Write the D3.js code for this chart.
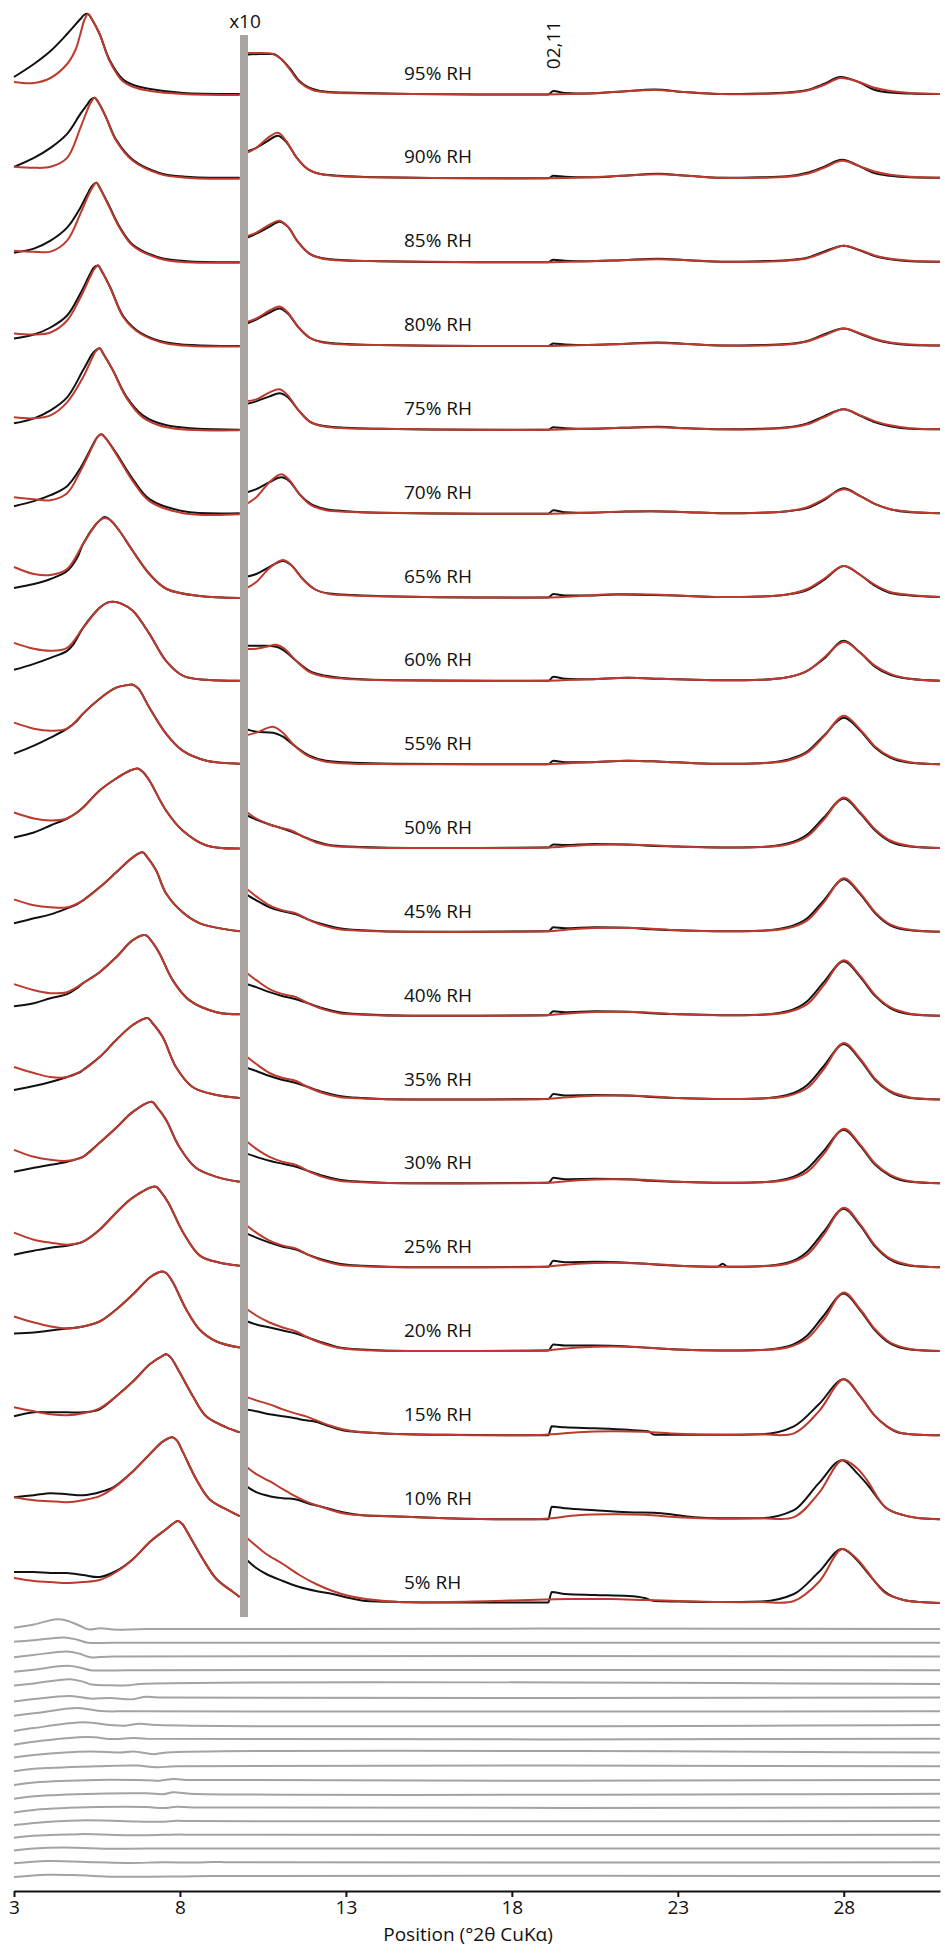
<!DOCTYPE html>
<html>
<head>
<meta charset="utf-8">
<script src="https://cdn.jsdelivr.net/npm/d3@7"></script>
<style>
  body { margin: 0; background: #fff; }
  text { font-family: "Open Sans", "Noto Sans", sans-serif; fill: #111; }
</style>
</head>
<body>
<svg id="chart" width="945" height="1955"></svg>
<script>
// Relative humidity steps, top to bottom
const rhLevels = [95, 90, 85, 80, 75, 70, 65, 60, 55, 50, 45, 40, 35, 30, 25, 20, 15, 10, 5];
const xTicks = [3, 8, 13, 18, 23, 28];

// Low angle part (3 - 9.8 deg), counts, [2theta, intensity]
const calcLow = [
  [[3,130],[3.6,120],[4.1,170],[4.6,310],[4.85,450],[5.0,610],[5.11,740],[5.23,810],[5.36,750],[5.58,610],[5.88,340],[6.27,140],[6.6,80],[7.1,40],[8.1,10],[9.8,0]],
  [[3,120],[3.6,110],[4.1,120],[4.6,210],[5.0,510],[5.2,680],[5.31,760],[5.43,810],[5.55,760],[5.78,610],[6.08,380],[6.58,180],[7.38,50],[8.2,10],[9.8,0]],
  [[3,120],[3.6,110],[4.1,110],[4.6,220],[5.0,490],[5.25,680],[5.36,750],[5.48,800],[5.6,740],[5.88,550],[6.18,350],[6.58,170],[7.4,40],[8.2,5],[9.8,0]],
  [[3,130],[3.6,120],[4.1,140],[4.6,260],[5.0,490],[5.3,700],[5.41,770],[5.53,810],[5.65,750],[5.9,590],[6.3,290],[6.8,130],[7.6,30],[9.8,0]],
  [[3,130],[3.6,120],[4.1,150],[4.6,280],[5.08,530],[5.35,720],[5.46,790],[5.58,820],[5.7,760],[5.98,600],[6.38,330],[6.88,130],[7.6,30],[9.8,0]],
  [[3,170],[3.6,150],[4.1,140],[4.6,210],[5.0,430],[5.4,700],[5.51,770],[5.63,800],[5.76,760],[6.08,600],[6.58,330],[7.08,130],[8.1,10],[9.8,0]],
  [[3,310],[3.6,240],[4.1,230],[4.6,290],[5.08,540],[5.45,730],[5.6,780],[5.73,800],[5.9,780],[6.18,670],[6.58,470],[7.08,240],[7.6,90],[8.6,20],[9.8,0]],
  [[3,390],[3.6,330],[4.1,310],[4.6,340],[5.08,540],[5.58,740],[5.8,790],[5.98,800],[6.25,780],[6.58,710],[7.08,480],[7.58,210],[8.1,60],[8.8,20],[9.8,10]],
  [[3,430],[3.6,370],[4.1,350],[4.6,370],[5.08,520],[5.58,670],[6.08,780],[6.4,805],[6.58,810],[6.75,770],[7.08,580],[7.58,320],[8.08,150],[8.8,50],[9.8,20]],
  [[3,370],[3.6,310],[4.1,290],[4.6,310],[5.08,420],[5.58,590],[6.08,710],[6.5,790],[6.73,810],[6.9,770],[7.08,690],[7.58,390],[8.08,190],[8.8,40],[9.8,10]],
  [[3,340],[3.6,280],[4.1,260],[4.6,260],[5.08,330],[5.58,460],[6.08,610],[6.58,760],[6.87,810],[7.02,760],[7.28,630],[7.58,400],[8.08,210],[8.6,100],[9.8,20]],
  [[3,330],[3.6,270],[4.1,240],[4.6,250],[5.08,340],[5.58,450],[6.08,600],[6.58,770],[6.97,820],[7.12,770],[7.38,640],[7.78,370],[8.28,170],[9.1,50],[9.8,30]],
  [[3,340],[3.6,280],[4.1,240],[4.6,240],[5.08,310],[5.58,440],[6.08,610],[6.58,760],[7.02,830],[7.17,780],[7.48,640],[7.88,340],[8.38,140],[9.1,60],[9.8,30]],
  [[3,350],[3.6,280],[4.1,250],[4.6,240],[5.08,280],[5.58,420],[6.08,570],[6.58,730],[7.15,830],[7.3,780],[7.58,650],[7.98,380],[8.48,170],[9.1,80],[9.8,30]],
  [[3,360],[3.6,290],[4.1,260],[4.6,240],[5.08,270],[5.58,390],[6.08,560],[6.58,710],[7.27,820],[7.42,770],[7.65,660],[8.1,360],[8.6,130],[9.2,60],[9.8,30]],
  [[3,360],[3.6,300],[4.1,260],[4.6,240],[5.08,260],[5.58,310],[6.08,430],[6.58,580],[7.09,750],[7.35,800],[7.47,810],[7.6,790],[7.79,700],[8.19,430],[8.59,230],[9.1,110],[9.8,50]],
  [[3,290],[3.6,250],[4.1,220],[4.6,210],[5.08,230],[5.58,280],[6.08,400],[6.59,550],[7.09,720],[7.45,800],[7.59,820],[7.72,790],[7.99,640],[8.39,400],[8.79,200],[9.4,90],[9.8,40]],
  [[3,230],[3.6,200],[4.1,190],[4.6,180],[5.08,200],[5.58,240],[6.08,340],[6.59,490],[7.09,660],[7.5,790],[7.77,830],[7.9,800],[8.09,680],[8.49,410],[8.89,210],[9.5,90],[9.8,40]],
  [[3,260],[3.6,230],[4.1,220],[4.6,210],[5.08,220],[5.58,240],[6.08,320],[6.59,450],[7.09,620],[7.59,750],[7.82,810],[7.94,830],[8.07,800],[8.29,680],[8.69,450],[9.1,250],[9.6,120],[9.8,70]]
];

const obsLow = [
  [[3,180],[3.6,310],[4.1,440],[4.6,610],[5.0,760],[5.11,800],[5.23,810],[5.36,750],[5.58,610],[5.88,350],[6.27,160],[6.6,100],[7.1,60],[8.1,20],[9.8,10]],
  [[3,120],[3.6,210],[4.1,310],[4.6,450],[5.0,650],[5.2,740],[5.31,790],[5.43,810],[5.55,760],[5.78,610],[6.08,390],[6.58,190],[7.38,60],[8.2,20],[9.8,10]],
  [[3,100],[3.6,140],[4.1,220],[4.6,350],[5.0,550],[5.25,710],[5.36,770],[5.48,800],[5.6,740],[5.88,560],[6.18,360],[6.58,180],[7.4,50],[8.2,15],[9.8,5]],
  [[3,80],[3.6,120],[4.1,190],[4.6,310],[5.0,530],[5.3,730],[5.41,790],[5.53,810],[5.65,750],[5.9,590],[6.3,300],[6.8,140],[7.6,40],[9.8,5]],
  [[3,70],[3.6,120],[4.1,200],[4.6,330],[5.08,600],[5.35,760],[5.46,800],[5.58,820],[5.7,760],[5.98,600],[6.38,340],[6.88,150],[7.6,50],[9.8,5]],
  [[3,80],[3.6,130],[4.1,190],[4.6,280],[5.0,460],[5.4,710],[5.51,770],[5.63,800],[5.76,760],[6.08,610],[6.58,350],[7.08,150],[8.1,30],[9.8,10]],
  [[3,100],[3.6,140],[4.1,190],[4.6,270],[4.9,400],[5.08,540],[5.45,730],[5.6,780],[5.73,810],[5.9,780],[6.18,670],[6.58,470],[7.08,240],[7.6,90],[8.6,20],[9.8,0]],
  [[3,120],[3.6,180],[4.1,240],[4.6,310],[4.8,380],[5.08,540],[5.58,740],[5.8,790],[5.98,800],[6.25,780],[6.58,710],[7.08,480],[7.58,210],[8.1,60],[8.8,20],[9.8,10]],
  [[3,120],[3.6,200],[4.1,280],[4.6,370],[4.9,450],[5.08,520],[5.58,670],[6.08,780],[6.4,805],[6.58,810],[6.75,770],[7.08,580],[7.58,320],[8.08,150],[8.8,50],[9.8,20]],
  [[3,120],[3.6,170],[4.1,240],[4.6,310],[4.9,370],[5.08,420],[5.58,590],[6.08,710],[6.5,790],[6.73,810],[6.9,770],[7.08,690],[7.58,390],[8.08,190],[8.8,40],[9.8,10]],
  [[3,100],[3.6,150],[4.1,190],[4.6,250],[4.9,290],[5.08,330],[5.58,460],[6.08,610],[6.58,760],[6.87,810],[7.02,760],[7.28,630],[7.58,400],[8.08,210],[8.6,100],[9.8,20]],
  [[3,110],[3.6,140],[4.1,190],[4.6,230],[4.9,290],[5.08,340],[5.58,450],[6.08,600],[6.58,770],[6.97,820],[7.12,770],[7.38,640],[7.78,370],[8.28,170],[9.1,50],[9.8,30]],
  [[3,110],[3.6,150],[4.1,190],[4.6,240],[5.0,290],[5.08,310],[5.58,440],[6.08,610],[6.58,760],[7.02,830],[7.17,780],[7.48,640],[7.88,340],[8.38,140],[9.1,60],[9.8,30]],
  [[3,130],[3.6,170],[4.1,200],[4.6,230],[5.0,270],[5.08,280],[5.58,420],[6.08,570],[6.58,730],[7.15,830],[7.3,780],[7.58,650],[7.98,380],[8.48,170],[9.1,80],[9.8,30]],
  [[3,140],[3.6,180],[4.1,210],[4.6,230],[5.0,260],[5.08,270],[5.58,390],[6.08,560],[6.58,710],[7.27,820],[7.42,770],[7.65,660],[8.1,360],[8.6,130],[9.2,60],[9.8,30]],
  [[3,190],[3.6,200],[4.1,220],[4.6,240],[5.08,260],[5.58,310],[6.08,430],[6.58,580],[7.09,750],[7.35,800],[7.47,810],[7.6,790],[7.79,700],[8.19,430],[8.59,230],[9.1,110],[9.8,50]],
  [[3,200],[3.6,240],[4.1,240],[4.6,240],[5.08,240],[5.58,270],[6.08,400],[6.59,550],[7.09,720],[7.45,800],[7.59,820],[7.72,790],[7.99,640],[8.39,400],[8.79,200],[9.4,90],[9.8,40]],
  [[3,230],[3.6,250],[4.1,270],[4.6,260],[5.08,250],[5.58,280],[6.0,330],[6.59,490],[7.09,660],[7.5,790],[7.77,830],[7.9,800],[8.09,680],[8.49,410],[8.89,210],[9.5,90],[9.8,40]],
  [[3,320],[3.6,320],[4.1,310],[4.6,310],[5.08,290],[5.58,270],[6.08,330],[6.59,450],[7.09,620],[7.59,750],[7.82,810],[7.94,830],[8.07,800],[8.29,680],[8.69,450],[9.1,250],[9.6,120],[9.8,70]]
];

// High angle part (9.95 - 30.9 deg), same counts, drawn x10
const calcHigh = [
  [[9.95,4.2],[10.4,4.2],[10.8,4.1],[11.05,3.6],[11.3,2.6],[11.6,1.3],[12,0.5],[12.5,0.25],[13.5,0.15],[15,0.1],[17,0.05],[19,0.05],[20.3,0.15],[21.3,0.35],[22.3,0.5],[23.2,0.3],[24.3,0.1],[25.5,0.1],[26.3,0.2],[26.9,0.45],[27.4,1.0],[27.9,1.7],[28.45,1.3],[28.9,0.75],[29.4,0.4],[30,0.2],[30.9,0.1]],
  [[9.95,2.5],[10.3,3.1],[10.65,4.1],[10.95,4.6],[11.2,3.8],[11.5,2.2],[11.8,1.1],[12.2,0.5],[12.8,0.25],[14,0.15],[17,0.05],[19,0.05],[20.3,0.15],[21.3,0.3],[22.4,0.45],[23.3,0.3],[24.3,0.1],[25.5,0.1],[26.3,0.2],[26.9,0.5],[27.4,1.1],[27.95,1.8],[28.45,1.3],[28.9,0.75],[29.4,0.4],[30,0.2],[30.9,0.1]],
  [[9.95,2.6],[10.3,3.0],[10.7,3.8],[11,4.2],[11.25,3.6],[11.55,2.1],[11.9,0.9],[12.3,0.4],[13,0.2],[14,0.15],[17,0.05],[19,0.05],[20.3,0.15],[21.3,0.25],[22.4,0.35],[23.3,0.25],[24.3,0.1],[25.5,0.1],[26.3,0.2],[26.9,0.45],[27.4,1.0],[28,1.7],[28.5,1.25],[28.95,0.7],[29.4,0.4],[30,0.2],[30.9,0.1]],
  [[9.95,2.4],[10.3,2.8],[10.7,3.6],[11,4.0],[11.25,3.4],[11.55,2.0],[11.9,0.9],[12.3,0.4],[13,0.2],[14,0.15],[17,0.05],[19,0.05],[20.3,0.15],[21.3,0.25],[22.4,0.35],[23.3,0.25],[24.3,0.1],[25.5,0.1],[26.3,0.2],[26.9,0.5],[27.4,1.1],[28,1.8],[28.5,1.3],[28.95,0.75],[29.4,0.4],[30,0.2],[30.9,0.1]],
  [[9.95,2.9],[10.3,3.1],[10.7,3.8],[11,4.1],[11.25,3.5],[11.55,2.1],[11.9,0.9],[12.3,0.4],[13,0.2],[14,0.15],[17,0.05],[19,0.05],[20.3,0.15],[21.3,0.25],[22.4,0.3],[23.3,0.2],[24.3,0.1],[25.5,0.1],[26.3,0.25],[26.9,0.6],[27.4,1.3],[28,2.1],[28.5,1.5],[28.95,0.9],[29.4,0.5],[30,0.2],[30.9,0.1]],
  [[9.95,0.9],[10.3,1.7],[10.7,3.2],[11.05,4.0],[11.3,3.4],[11.6,2.0],[11.95,0.9],[12.4,0.4],[13,0.25],[14,0.15],[17,0.05],[19,0.05],[20.3,0.15],[21.3,0.25],[22.2,0.3],[23.3,0.2],[24.3,0.1],[25.5,0.15],[26.3,0.3],[26.9,0.7],[27.4,1.5],[28,2.5],[28.5,1.8],[28.95,1.0],[29.4,0.5],[30,0.25],[30.9,0.1]],
  [[9.95,0.9],[10.3,1.6],[10.7,3.0],[11.1,3.8],[11.35,3.3],[11.7,1.9],[12.05,0.9],[12.5,0.4],[13.2,0.25],[14.5,0.15],[17,0.05],[19,0.05],[20.3,0.25],[21.2,0.4],[22.2,0.35],[23.3,0.2],[24.3,0.1],[25.5,0.15],[26.3,0.35],[26.9,0.9],[27.4,1.9],[28,3.2],[28.5,2.3],[28.95,1.3],[29.4,0.6],[30,0.3],[30.9,0.1]],
  [[9.95,3.3],[10.3,3.3],[10.6,3.5],[10.9,3.7],[11.15,3.3],[11.5,2.1],[11.9,1.0],[12.4,0.5],[13.2,0.25],[14.5,0.15],[17,0.1],[19,0.1],[20.3,0.25],[21.5,0.4],[22.5,0.3],[23.5,0.2],[24.5,0.15],[25.5,0.2],[26.3,0.45],[26.9,1.1],[27.4,2.4],[28,4.0],[28.5,2.9],[28.95,1.6],[29.4,0.8],[30,0.3],[30.9,0.1]],
  [[9.95,3.0],[10.3,3.3],[10.8,3.9],[11.1,3.3],[11.45,2.0],[11.9,0.9],[12.4,0.4],[13.2,0.2],[14.5,0.15],[17,0.15],[19,0.15],[20.3,0.35],[21.5,0.5],[22.5,0.4],[23.5,0.25],[24.5,0.2],[25.5,0.25],[26.3,0.5],[26.9,1.3],[27.4,2.9],[28,5.0],[28.5,3.6],[28.95,1.9],[29.4,0.9],[30,0.35],[30.9,0.15]],
  [[9.95,3.9],[10.3,3.1],[10.7,2.5],[11,2.2],[11.35,1.9],[11.7,1.3],[12.1,0.7],[12.6,0.35],[13.5,0.2],[15,0.15],[17,0.15],[19,0.2],[20,0.4],[21,0.5],[22,0.45],[23,0.3],[24.3,0.2],[25.5,0.25],[26.3,0.5],[26.9,1.3],[27.4,3.0],[28,5.2],[28.5,3.7],[28.95,2.0],[29.4,0.9],[30,0.35],[30.9,0.15]],
  [[9.95,4.6],[10.3,3.7],[10.7,2.8],[11.1,2.3],[11.5,2.0],[11.85,1.4],[12.3,0.8],[12.8,0.4],[13.5,0.25],[15,0.15],[17,0.15],[19,0.2],[20,0.45],[21,0.55],[22,0.5],[23,0.3],[24.3,0.2],[25.5,0.25],[26.3,0.5],[26.9,1.3],[27.4,3.1],[28,5.5],[28.5,4.0],[28.95,2.1],[29.4,0.9],[30,0.35],[30.9,0.15]],
  [[9.95,4.6],[10.3,3.7],[10.7,2.8],[11.1,2.3],[11.5,2.0],[11.85,1.4],[12.3,0.8],[12.8,0.4],[13.5,0.25],[15,0.15],[17,0.15],[19,0.2],[20,0.45],[21,0.55],[22,0.5],[23,0.3],[24.3,0.2],[25.5,0.25],[26.3,0.5],[26.9,1.3],[27.4,3.2],[28,5.7],[28.5,4.1],[28.95,2.2],[29.4,1.0],[30,0.35],[30.9,0.15]],
  [[9.95,4.6],[10.3,3.7],[10.7,2.8],[11.1,2.3],[11.5,2.0],[11.85,1.4],[12.3,0.8],[12.8,0.4],[13.5,0.25],[15,0.15],[17,0.15],[19,0.2],[20,0.45],[21,0.55],[22,0.5],[23,0.3],[24.3,0.2],[25.5,0.25],[26.3,0.5],[26.9,1.3],[27.4,3.2],[28,5.8],[28.5,4.2],[28.95,2.2],[29.4,1.0],[30,0.35],[30.9,0.15]],
  [[9.95,4.5],[10.3,3.6],[10.7,2.8],[11.1,2.3],[11.5,2.0],[11.85,1.4],[12.3,0.8],[12.8,0.4],[13.5,0.25],[15,0.15],[17,0.15],[19,0.2],[20,0.45],[21,0.55],[22,0.5],[23,0.3],[24.3,0.2],[25.5,0.25],[26.3,0.5],[26.9,1.3],[27.4,3.1],[28,5.6],[28.5,4.0],[28.95,2.1],[29.4,1.0],[30,0.35],[30.9,0.15]],
  [[9.95,4.5],[10.3,3.6],[10.7,2.8],[11.1,2.3],[11.5,2.0],[11.85,1.4],[12.3,0.8],[12.8,0.4],[13.5,0.25],[15,0.15],[17,0.15],[19,0.2],[20,0.5],[21,0.6],[22,0.5],[23,0.3],[24.3,0.2],[25.5,0.25],[26.3,0.5],[26.9,1.4],[27.4,3.4],[28,6.1],[28.5,4.4],[28.95,2.3],[29.4,1.0],[30,0.35],[30.9,0.15]],
  [[9.95,4.5],[10.3,3.7],[10.7,3.0],[11.1,2.5],[11.5,2.1],[11.85,1.5],[12.3,0.9],[12.8,0.45],[13.5,0.25],[15,0.15],[17,0.15],[19,0.2],[20,0.5],[21,0.6],[22,0.5],[23,0.3],[24.3,0.2],[25.5,0.25],[26.3,0.5],[26.9,1.4],[27.4,3.3],[28,6.0],[28.5,4.3],[28.95,2.3],[29.4,1.0],[30,0.35],[30.9,0.15]],
  [[9.95,4.0],[10.3,3.6],[10.7,3.2],[11.1,2.7],[11.47,2.3],[11.8,2.0],[12.03,1.7],[12.5,1.1],[12.9,0.7],[13.5,0.4],[14.3,0.27],[16,0.15],[18,0.1],[19,0.15],[20,0.4],[21,0.5],[22,0.45],[23,0.25],[24.3,0.15],[25.5,0.2],[26.5,0.3],[27.25,2.5],[28,5.7],[28.5,4.0],[28.9,2.2],[29.3,1.0],[29.7,0.35],[30.3,0.15],[30.9,0.1]],
  [[9.95,5.5],[10.3,4.6],[10.7,3.9],[11.1,3.1],[11.47,2.4],[11.85,1.8],[12.2,1.4],[12.9,0.7],[13.5,0.5],[14.3,0.4],[16,0.2],[18,0.1],[19,0.15],[20,0.5],[21,0.6],[22,0.55],[23,0.3],[24.3,0.15],[25.5,0.2],[26.5,0.3],[27.25,2.7],[27.95,6.0],[28.4,5.2],[28.7,4.0],[29.25,1.3],[29.8,0.5],[30.3,0.2],[30.9,0.1]],
  [[9.95,6.8],[10.3,5.8],[10.6,5.0],[11.1,4.0],[11.6,2.9],[12.1,2.0],[12.6,1.3],[13.1,0.8],[13.6,0.5],[14.6,0.2],[16,0.2],[17.5,0.3],[19,0.45],[20,0.5],[21,0.5],[22,0.4],[23,0.3],[24.3,0.2],[25.5,0.2],[26.5,0.3],[27.25,2.2],[27.95,5.5],[28.4,4.5],[28.7,3.3],[29.25,1.1],[29.8,0.4],[30.3,0.2],[30.9,0.1]]
];

const obsHigh = [
  [[9.95,4.0],[10.4,4.1],[10.8,4.1],[11.05,3.6],[11.3,2.7],[11.6,1.4],[12,0.6],[12.5,0.3],[13.5,0.2],[15,0.1],[17,0.05],[19.1,0.05],[19.25,0.4],[19.6,0.2],[20.3,0.15],[21.3,0.35],[22.3,0.55],[23.2,0.3],[24.3,0.1],[25.5,0.15],[26.3,0.25],[26.9,0.5],[27.4,1.1],[27.9,1.8],[28.45,1.3],[28.9,0.55],[29.4,0.25],[30,0.15],[30.9,0.1]],
  [[9.95,2.7],[10.3,3.1],[10.65,3.8],[10.95,4.3],[11.2,3.7],[11.5,2.2],[11.8,1.1],[12.2,0.5],[12.8,0.3],[14,0.15],[17,0.05],[19.1,0.05],[19.25,0.3],[19.6,0.2],[20.3,0.15],[21.3,0.3],[22.4,0.5],[23.3,0.3],[24.3,0.1],[25.5,0.15],[26.3,0.25],[26.9,0.6],[27.4,1.2],[27.95,1.9],[28.45,1.3],[28.9,0.6],[29.4,0.3],[30,0.15],[30.9,0.1]],
  [[9.95,2.4],[10.3,2.9],[10.7,3.6],[11,4.1],[11.25,3.6],[11.55,2.1],[11.9,0.9],[12.3,0.45],[13,0.25],[14,0.15],[17,0.05],[19.1,0.05],[19.25,0.3],[19.6,0.2],[20.3,0.15],[21.3,0.25],[22.4,0.4],[23.3,0.25],[24.3,0.1],[25.5,0.15],[26.3,0.25],[26.9,0.5],[27.4,1.1],[28,1.7],[28.5,1.2],[28.95,0.65],[29.4,0.35],[30,0.15],[30.9,0.1]],
  [[9.95,2.2],[10.3,2.7],[10.7,3.4],[11,3.8],[11.25,3.3],[11.55,2.0],[11.9,0.9],[12.3,0.45],[13,0.25],[14,0.15],[17,0.05],[19.1,0.05],[19.25,0.3],[19.6,0.2],[20.3,0.15],[21.3,0.25],[22.4,0.4],[23.3,0.25],[24.3,0.1],[25.5,0.15],[26.3,0.25],[26.9,0.55],[27.4,1.2],[28,1.8],[28.5,1.25],[28.95,0.7],[29.4,0.35],[30,0.15],[30.9,0.1]],
  [[9.95,2.6],[10.3,2.9],[10.7,3.4],[11,3.7],[11.25,3.3],[11.55,2.1],[11.9,0.9],[12.3,0.45],[13,0.25],[14,0.15],[17,0.05],[19.1,0.05],[19.25,0.3],[19.6,0.2],[20.3,0.15],[21.3,0.25],[22.4,0.35],[23.3,0.2],[24.3,0.1],[25.5,0.15],[26.3,0.3],[26.9,0.7],[27.4,1.4],[28,2.1],[28.5,1.45],[28.95,0.8],[29.4,0.4],[30,0.15],[30.9,0.1]],
  [[9.95,2.1],[10.3,2.5],[10.7,3.2],[11.05,3.7],[11.3,3.3],[11.6,2.0],[11.95,1.0],[12.4,0.5],[13,0.3],[14,0.15],[17,0.05],[19.1,0.05],[19.25,0.4],[19.6,0.2],[20.3,0.15],[21.3,0.25],[22.2,0.3],[23.3,0.2],[24.3,0.1],[25.5,0.15],[26.3,0.3],[26.9,0.6],[27.4,1.4],[28,2.6],[28.5,1.8],[28.95,1.0],[29.4,0.5],[30,0.2],[30.9,0.1]],
  [[9.95,2.1],[10.3,2.4],[10.7,3.1],[11.1,3.7],[11.35,3.3],[11.7,1.9],[12.05,0.9],[12.5,0.45],[13.2,0.3],[14.5,0.15],[17,0.05],[19.1,0.05],[19.25,0.4],[19.6,0.25],[20.3,0.25],[21.2,0.35],[22.2,0.3],[23.3,0.2],[24.3,0.1],[25.5,0.15],[26.3,0.35],[26.9,0.8],[27.4,1.8],[28,3.2],[28.5,2.3],[28.95,1.2],[29.4,0.5],[30,0.25],[30.9,0.1]],
  [[9.95,3.6],[10.3,3.6],[10.6,3.6],[10.9,3.5],[11.15,3.1],[11.5,2.1],[11.9,1.1],[12.4,0.6],[13.2,0.3],[14.5,0.15],[17,0.1],[19.1,0.1],[19.25,0.5],[19.6,0.3],[20.3,0.25],[21.5,0.4],[22.5,0.3],[23.5,0.2],[24.5,0.15],[25.5,0.2],[26.3,0.45],[26.9,1.1],[27.4,2.3],[28,4.1],[28.5,2.9],[28.95,1.5],[29.4,0.7],[30,0.3],[30.9,0.1]],
  [[9.95,3.7],[10.3,3.4],[10.8,3.3],[11.1,2.9],[11.45,2.0],[11.9,1.0],[12.4,0.5],[13.2,0.3],[14.5,0.2],[17,0.15],[19.1,0.15],[19.25,0.5],[19.6,0.35],[20.3,0.35],[21.5,0.5],[22.5,0.4],[23.5,0.25],[24.5,0.2],[25.5,0.25],[26.3,0.6],[26.9,1.4],[27.4,3.0],[28,4.8],[28.5,3.5],[28.95,1.8],[29.4,0.8],[30,0.3],[30.9,0.15]],
  [[9.95,3.5],[10.3,3.0],[10.7,2.5],[11,2.2],[11.35,1.8],[11.7,1.3],[12.1,0.8],[12.6,0.4],[13.5,0.25],[15,0.15],[17,0.15],[19.1,0.2],[19.25,0.5],[19.6,0.45],[20.5,0.55],[21.5,0.5],[22,0.4],[23,0.3],[24.3,0.2],[25.5,0.25],[26.3,0.6],[26.9,1.5],[27.4,3.2],[28,5.1],[28.5,3.6],[28.95,1.9],[29.4,0.8],[30,0.3],[30.9,0.15]],
  [[9.95,4.0],[10.3,3.3],[10.7,2.6],[11.1,2.2],[11.5,1.9],[11.85,1.4],[12.3,0.9],[12.8,0.5],[13.5,0.3],[15,0.15],[17,0.15],[19.1,0.2],[19.25,0.6],[19.6,0.5],[20.5,0.6],[21.5,0.55],[22.2,0.4],[23,0.3],[24.3,0.2],[25.5,0.25],[26.3,0.6],[26.9,1.5],[27.4,3.3],[28,5.4],[28.5,3.9],[28.95,2.0],[29.4,0.8],[30,0.3],[30.9,0.15]],
  [[9.95,3.4],[10.3,3.0],[10.7,2.5],[11.1,2.1],[11.5,1.8],[11.85,1.4],[12.3,0.9],[12.8,0.5],[13.5,0.3],[15,0.15],[17,0.15],[19.1,0.2],[19.25,0.6],[19.6,0.5],[20.5,0.6],[21.5,0.55],[22.2,0.4],[23,0.3],[24.3,0.2],[25.5,0.25],[26.3,0.6],[26.9,1.6],[27.4,3.5],[28,5.6],[28.5,4.0],[28.95,2.1],[29.4,0.9],[30,0.3],[30.9,0.15]],
  [[9.95,3.4],[10.3,3.0],[10.7,2.5],[11.1,2.1],[11.5,1.8],[11.85,1.4],[12.3,0.9],[12.8,0.5],[13.5,0.3],[15,0.15],[17,0.15],[19.1,0.2],[19.25,0.7],[19.6,0.55],[20.5,0.6],[21.5,0.55],[22.2,0.4],[23,0.3],[24.3,0.2],[25.5,0.25],[26.3,0.6],[26.9,1.6],[27.4,3.5],[28,5.7],[28.5,4.1],[28.95,2.1],[29.4,0.9],[30,0.3],[30.9,0.15]],
  [[9.95,3.2],[10.3,2.8],[10.7,2.4],[11.1,2.1],[11.5,1.8],[11.85,1.4],[12.3,0.9],[12.8,0.5],[13.5,0.3],[15,0.15],[17,0.15],[19.1,0.2],[19.25,0.7],[19.6,0.55],[20.5,0.6],[21.5,0.55],[22.2,0.4],[23,0.3],[24.3,0.2],[25.5,0.25],[26.3,0.6],[26.9,1.6],[27.4,3.4],[28,5.5],[28.5,3.9],[28.95,2.0],[29.4,0.9],[30,0.3],[30.9,0.15]],
  [[9.95,3.6],[10.3,3.1],[10.7,2.6],[11.1,2.2],[11.5,1.9],[11.85,1.4],[12.3,0.9],[12.8,0.5],[13.5,0.3],[15,0.15],[17,0.15],[19.1,0.2],[19.25,0.8],[19.6,0.65],[20.5,0.7],[21.5,0.6],[22.2,0.45],[23,0.3],[24.2,0.2],[24.35,0.5],[24.5,0.2],[25.5,0.25],[26.3,0.6],[26.9,1.7],[27.4,3.7],[28,6.0],[28.5,4.3],[28.95,2.2],[29.4,0.9],[30,0.3],[30.9,0.15]],
  [[9.95,3.2],[10.3,2.8],[10.7,2.5],[11.1,2.2],[11.5,1.9],[11.85,1.5],[12.3,1.0],[12.8,0.5],[13.5,0.3],[15,0.15],[17,0.15],[19.1,0.2],[19.25,0.8],[19.6,0.7],[20.5,0.7],[21.5,0.6],[22.2,0.45],[23,0.3],[24.3,0.2],[25.5,0.25],[26.3,0.6],[26.9,1.7],[27.4,3.7],[28,5.9],[28.5,4.2],[28.95,2.2],[29.4,0.9],[30,0.3],[30.9,0.15]],
  [[9.95,2.7],[10.3,2.5],[10.7,2.2],[11.1,2.0],[11.47,1.8],[11.8,1.6],[12.03,1.5],[12.5,1.0],[12.9,0.6],[13.5,0.4],[14.3,0.25],[16,0.15],[18,0.1],[19.1,0.1],[19.2,1.0],[19.6,0.9],[20.5,0.8],[21.5,0.65],[22.1,0.5],[22.3,0.15],[23,0.15],[24.3,0.15],[25.5,0.2],[26.5,1.0],[27.25,3.2],[28,5.7],[28.5,4.0],[28.9,2.2],[29.3,1.0],[29.7,0.33],[30.3,0.15],[30.9,0.1]],
  [[9.95,3.5],[10.3,2.8],[10.7,2.4],[11.1,2.2],[11.47,2.1],[11.85,1.7],[12.2,1.4],[12.9,0.8],[13.5,0.5],[14.3,0.4],[16,0.2],[18,0.1],[19.1,0.1],[19.2,1.35],[19.6,1.2],[20.5,1.0],[21.5,0.8],[22.5,0.7],[23,0.5],[23.5,0.3],[24.3,0.2],[25.5,0.2],[26.5,1.0],[27.25,3.7],[27.95,6.0],[28.4,4.7],[28.7,3.6],[29.25,1.3],[29.8,0.5],[30.3,0.2],[30.9,0.1]],
  [[9.95,4.6],[10.3,3.6],[10.6,3.0],[11.1,2.3],[11.6,1.7],[12.1,1.3],[12.6,1.0],[13.1,0.6],[13.6,0.3],[14.6,0.2],[16,0.15],[17.5,0.15],[19.1,0.15],[19.2,1.2],[19.6,1.0],[20.5,0.9],[21.5,0.8],[22,0.6],[22.3,0.3],[23,0.25],[24.3,0.2],[25.5,0.25],[26.5,1.0],[27.25,3.2],[27.95,5.5],[28.4,4.4],[28.7,3.2],[29.25,1.2],[29.8,0.4],[30.3,0.2],[30.9,0.1]]
];

// Difference curves (obs - calc), counts
const diffCurves = [
  [[3,13],[3.6,45],[4.28,97],[4.6,83],[5.0,30],[5.23,-3],[5.6,7],[6.1,-7],[7,0],[30.9,0]],
  [[3,10],[3.6,25],[4.5,53],[4.9,30],[5.23,0],[6,0],[30.9,0]],
  [[3,-7],[3.6,15],[4.59,50],[4.95,30],[5.3,-7],[6,0],[30.9,0]],
  [[3,-17],[3.6,5],[4.6,43],[5.0,25],[5.3,0],[6,-3],[7,0],[30.9,0]],
  [[3,-17],[3.6,5],[4.7,47],[5.1,20],[5.3,-3],[6.48,-13],[6.8,0],[30.9,0]],
  [[3,-40],[3.6,-15],[4.7,17],[5.3,-10],[5.9,-3],[6.58,-17],[6.9,7],[7.5,0],[30.9,0]],
  [[3,-43],[3.6,-20],[4.92,33],[5.6,3],[6.5,0],[30.9,0]],
  [[3,-60],[3.6,-30],[5.1,27],[5.9,0],[6.3,-7],[6.8,13],[7.3,0],[30.9,0]],
  [[3,-60],[3.6,-30],[5.2,17],[6.0,-3],[6.6,7],[7.0,0],[30.9,0]],
  [[3,-50],[3.6,-25],[5.3,10],[6.2,0],[6.6,10],[7.2,-17],[7.6,0],[30.9,0]],
  [[3,-50],[3.6,-25],[5.5,0],[6.7,7],[7.3,-10],[7.9,0],[30.9,0]],
  [[3,-50],[3.6,-25],[5.5,0],[7.0,-3],[7.4,-7],[7.8,10],[8.2,0],[30.9,0]],
  [[3,-50],[3.6,-25],[5.5,0],[7.0,3],[7.5,-5],[7.8,13],[8.3,0],[30.9,0]],
  [[3,-50],[3.6,-25],[5.5,3],[7.0,3],[7.5,-7],[7.9,7],[8.4,0],[30.9,0]],
  [[3,-40],[3.6,-18],[5.0,7],[7.4,-7],[7.9,3],[8.4,0],[30.9,0]],
  [[3,-30],[3.6,-10],[5.0,7],[6.5,-3],[7.5,0],[8.0,3],[8.5,0],[30.9,0]],
  [[3,-20],[3.6,0],[4.5,10],[6.0,-3],[7.0,0],[30.9,0]],
  [[3,-10],[4.0,13],[5.5,0],[6.5,-7],[7.5,0],[8.5,-3],[9.0,3],[9.5,0],[30.9,0]],
  [[3,-10],[4.0,13],[5.0,7],[6.0,-7],[8.0,-5],[9.0,0],[30.9,0]]
];

const svg = d3.select("#chart");

const x = d3.scaleLinear().domain([3, 30.9]).range([14, 940]);
const rowY = d3.scalePoint().domain(rhLevels).range([95, 1604]);
const diffY = d3.scalePoint().domain(rhLevels).range([1629, 1876]);
const yLow = d3.scaleLinear().domain([0, 840]).range([0, 84]);
const yHigh = d3.scaleLinear().domain([0, 8.4]).range([0, 84]); // x10
const yDiff = d3.scaleLinear().domain([0, 840]).range([0, 84]);

const smooth = d3.curveCatmullRom.alpha(0.5);

function lineAt(base, yScale, curve) {
    return d3.line()
        .x(d => x(d[0]))
        .y(d => base - yScale(d[1]))
        .curve(curve || smooth);
}

// difference curves
const gDiff = svg.append("g");
rhLevels.forEach((rh, i) => {
    gDiff.append("path")
        .attr("d", lineAt(diffY(rh), yDiff)(diffCurves[i]))
        .attr("fill", "none")
        .attr("stroke", "#a3a3a3")
        .attr("stroke-width", 2);
});

// patterns: observed in black, calculated in red on top
const gPat = svg.append("g");
rhLevels.forEach((rh, i) => {
    const base = rowY(rh);
    const parts = [[obsLow[i], yLow, "#111", smooth],
                   [obsHigh[i], yHigh, "#111", d3.curveMonotoneX],
                   [calcLow[i], yLow, "#bd3a2f", smooth],
                   [calcHigh[i], yHigh, "#bd3a2f", smooth]];
    parts.forEach(([data, ys, col, curve]) => {
        gPat.append("path")
            .attr("d", lineAt(base, ys, curve)(data))
            .attr("fill", "none")
            .attr("stroke", col)
            .attr("stroke-width", 2)
            .attr("stroke-linejoin", "round");
    });
    gPat.append("text")
        .attr("x", 404)
        .attr("y", base - 22)
        .attr("dy", "0.35em")
        .attr("font-size", 19)
        .text(`${rh}% RH`);
});

// x10 separator bar
svg.append("rect")
    .attr("x", 240).attr("y", 35)
    .attr("width", 8).attr("height", 1582)
    .attr("fill", "#aaa5a1");

svg.append("text")
    .attr("x", 245).attr("y", 21)
    .attr("dy", "0.35em")
    .attr("text-anchor", "middle")
    .attr("font-size", 19)
    .text("x10");

svg.append("text")
    .attr("transform", `translate(${x(19.25)},45) rotate(-90)`)
    .attr("dy", "0.35em")
    .attr("text-anchor", "middle")
    .attr("font-size", 19)
    .text("02,11");

// axis
const axis = svg.append("g")
    .attr("transform", "translate(0,1891)")
    .call(d3.axisBottom(x).tickValues(xTicks).tickSize(6).tickSizeOuter(0).tickPadding(4));
axis.select(".domain").attr("stroke", "#111").attr("stroke-width", 2);
axis.selectAll(".tick line").attr("stroke", "#111").attr("stroke-width", 2);
axis.selectAll(".tick text")
    .attr("font-size", 19)
    .attr("font-family", "'Open Sans', sans-serif")
    .attr("fill", "#111");

svg.append("text")
    .attr("x", 468).attr("y", 1934)
    .attr("dy", "0.35em")
    .attr("text-anchor", "middle")
    .attr("font-size", 19)
    .text("Position (°2θ CuKα)");
</script>
</body>
</html>
